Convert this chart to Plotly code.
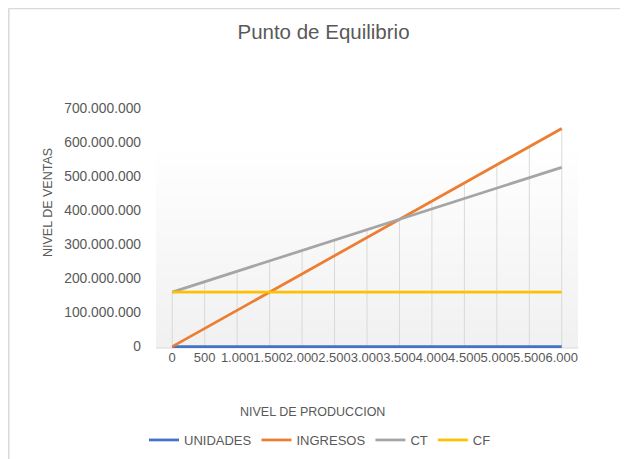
import plotly.graph_objects as go

# ---- data ----
categorias = ["0", "500", "1.000", "1.500", "2.000", "2.500", "3.000",
              "3.500", "4.000", "4.500", "5.000", "5.500", "6.000"]
unidades = [0, 500, 1000, 1500, 2000, 2500, 3000, 3500, 4000, 4500, 5000, 5500, 6000]
ingresos = [0, 53_333_333, 106_666_667, 160_000_000, 213_333_333, 266_666_667,
            320_000_000, 373_333_333, 426_666_667, 480_000_000, 533_333_333,
            586_666_667, 640_000_000]
ct = [160_000_000, 190_500_000, 221_000_000, 251_500_000, 282_000_000, 312_500_000,
      343_000_000, 373_500_000, 404_000_000, 434_500_000, 465_000_000,
      495_500_000, 526_000_000]
cf = [160_000_000] * 13
y_ticks = [0, 100_000_000, 200_000_000, 300_000_000, 400_000_000,
           500_000_000, 600_000_000, 700_000_000]
y_tick_labels = ["0", "100.000.000", "200.000.000", "300.000.000", "400.000.000",
                 "500.000.000", "600.000.000", "700.000.000"]

# page has an 8px body margin, so work in window pixels and offset
OFF = 8
W, H = 628 - OFF, 459 - OFF
PL, PR, PT, PB = 156, 578, 108, 348          # plot area in window pixels
ML, MR, MT = PL - OFF, 628 - PR, PT - OFF
MB = 459 - PB
PW, PH = PR - PL, PB - PT
Y_MIN, Y_MAX = -4_000_000, 700_000_000

def px_x(p):
    return (p - PL) / PW

def px_y(p):
    return (PB - p) / PH

TXT = "#595959"
FONT = "Liberation Sans, Arial, sans-serif"

fig = go.Figure()

# drop lines (from highest series to the axis)
idx = list(range(len(categorias)))
dx, dy = [], []
for i in idx:
    top = max(unidades[i], ingresos[i], ct[i], cf[i])
    dx += [i, i, None]
    dy += [0, top, None]
fig.add_trace(go.Scatter(x=dx, y=dy, mode="lines", line=dict(color="#d9d9d9", width=1),
                         showlegend=False, hoverinfo="skip"))

series = [("UNIDADES", unidades, "#4472C4"), ("INGRESOS", ingresos, "#ED7D31"),
          ("CT", ct, "#A5A5A5"), ("CF", cf, "#FFC000")]
for name, vals, col in series:
    fig.add_trace(go.Scatter(x=idx, y=vals, mode="lines", name=name,
                             line=dict(color=col, width=2.75)))

# subtle gradient background of plot area
shapes = []
g_top = px_y(152)
n = 14
for k in range(n):
    y0 = g_top * k / n
    y1 = g_top * (k + 1) / n
    shade = int(241 + (254 - 241) * (k / (n - 1)))
    shapes.append(dict(type="rect", xref="paper", yref="paper", x0=0, x1=1,
                       y0=y0, y1=y1, fillcolor=f"rgb({shade},{shade},{shade})",
                       line=dict(width=0), layer="below"))
# chart border (top and left)
shapes.append(dict(type="line", xref="paper", yref="paper",
                   x0=px_x(8.5), x1=px_x(628), y0=px_y(8.5), y1=px_y(8.5),
                   line=dict(color="#d9d9d9", width=1.5)))
shapes.append(dict(type="line", xref="paper", yref="paper",
                   x0=px_x(8.8), x1=px_x(8.8), y0=px_y(8.5), y1=px_y(459),
                   line=dict(color="#d9d9d9", width=1.5)))
# bottom axis line
shapes.append(dict(type="line", xref="paper", yref="paper", x0=0, x1=1, y0=0, y1=0,
                   line=dict(color="#d9d9d9", width=1), layer="below"))

annotations = [
    dict(text="NIVEL DE VENTAS", xref="paper", yref="paper", x=px_x(48), y=px_y(203),
         xanchor="center", yanchor="middle",
         textangle=-90, showarrow=False, font=dict(size=12.5, color=TXT, family=FONT)),
    dict(text="NIVEL DE PRODUCCION", xref="paper", yref="paper", x=px_x(312), y=px_y(412),
         xanchor="center", yanchor="middle",
         showarrow=False, font=dict(size=12.5, color=TXT, family=FONT)),
]

fig.update_layout(
    width=W, height=H,
    margin=dict(l=ML, r=MR, t=MT, b=MB, autoexpand=False),
    paper_bgcolor="white", plot_bgcolor="white",
    title=dict(text="Punto de Equilibrio", x=(323.5 - OFF) / W, xanchor="center",
               y=1 - (32 - OFF) / H, yanchor="middle",
               font=dict(size=20.5, color=TXT, family=FONT)),
    font=dict(family=FONT, color=TXT, size=13),
    xaxis=dict(range=[-0.5, 12.5], tickvals=idx, ticktext=categorias, tickangle=0,
               showgrid=False, zeroline=False, showline=False, ticks="",
               tickfont=dict(size=13, color=TXT), fixedrange=True),
    yaxis=dict(range=[Y_MIN, Y_MAX], tickvals=y_ticks, ticktext=y_tick_labels,
               showgrid=False, zeroline=False, showline=False, ticks="",
               ticklabelstandoff=14,
               tickfont=dict(size=13.8, color=TXT), fixedrange=True),
    legend=dict(orientation="h", x=px_x(320), xanchor="center", y=px_y(440),
                yanchor="middle", font=dict(size=13, color=TXT, family=FONT),
                itemwidth=30, bgcolor="rgba(0,0,0,0)"),
    shapes=shapes, annotations=annotations, showlegend=True,
)

fig.write_html("out.html")
